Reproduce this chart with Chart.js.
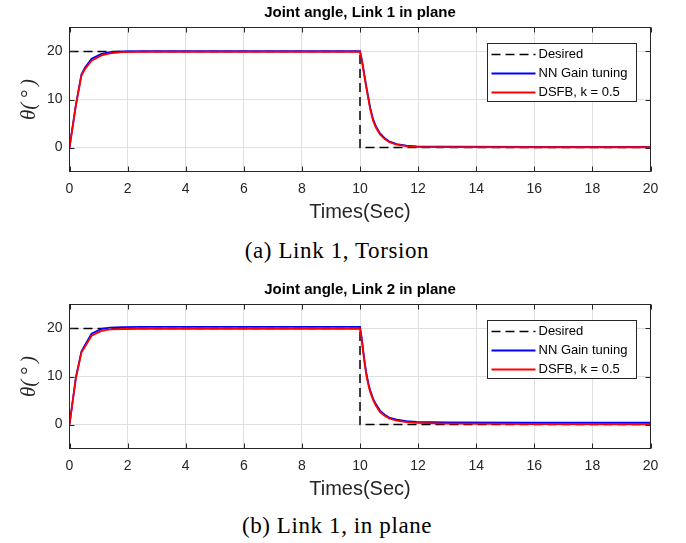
<!DOCTYPE html>
<html>
<head>
<meta charset="utf-8">
<script src="https://cdn.jsdelivr.net/npm/chart.js@4"></script>
<style>
  html, body { margin: 0; padding: 0; background: #fff; }
  #wrap { position: relative; width: 686px; height: 543px; overflow: hidden; }
  .panel { position: absolute; left: 0; width: 686px; height: 232px; }
  .caption {
    position: absolute; left: 0; width: 674px; text-align: center;
    font-family: 'Liberation Serif', 'DejaVu Serif', serif; font-size: 23px;
    letter-spacing: 0.6px; line-height: 26px; color: #000;
  }
</style>
</head>
<body>
<div id="wrap">
  <div class="panel" style="top:0"><canvas id="chart1" width="686" height="232"></canvas></div>
  <div class="caption" style="top:238px">(a) Link 1, Torsion</div>
  <div class="panel" style="top:277px"><canvas id="chart2" width="686" height="232"></canvas></div>
  <div class="caption" style="top:513px">(b) Link 1, in plane</div>
</div>
<script>
// Axis ticks
const xTicks = [0, 2, 4, 6, 8, 10, 12, 14, 16, 18, 20];
const yTicks = [0, 10, 20];

// Desired step (same for both links)
const desiredT = [0, 10, 10, 20];
const desiredV = [20, 20, 0, 0];

// Sample times of the responses
const respT = [0, 0.22, 0.41, 0.53, 0.76, 1.1, 1.4, 1.8, 2.5, 4, 10,
  10.06, 10.115, 10.17, 10.23, 10.3, 10.35, 10.45, 10.55, 10.69, 10.85,
  11, 11.26, 11.6, 11.95, 13, 16, 20];

// Link 1 responses
const link1NN = [0, 8.9, 15.2, 16.6, 18.5, 19.5, 19.85, 20.0, 20.05, 20.05, 20.05,
  18.4, 16.5, 14.4, 12.3, 10.0, 8.3, 5.9, 4.4, 2.95, 1.95,
  1.3, 0.7, 0.4, 0.25, 0.18, 0.15, 0.15];
const link1DSFB = [0, 8.8, 15.0, 16.3, 18.1, 19.2, 19.6, 19.85, 19.95, 19.95, 19.95,
  18.2, 16.2, 14.1, 12.0, 9.7, 8.0, 5.6, 4.1, 2.7, 1.75,
  1.15, 0.6, 0.3, 0.15, 0.08, 0.05, 0.05];

// Link 2 responses
const link2NN = [0, 9.8, 15.2, 16.5, 18.9, 19.9, 20.2, 20.3, 20.35, 20.35, 20.35,
  18.0, 15.2, 12.6, 10.3, 8.3, 7.1, 5.4, 4.2, 2.9, 2.05,
  1.45, 1.0, 0.7, 0.55, 0.42, 0.37, 0.36];
const link2DSFB = [0, 9.7, 15.0, 16.2, 18.5, 19.5, 19.8, 19.9, 19.95, 19.95, 19.95,
  17.6, 14.8, 12.2, 9.9, 7.9, 6.8, 5.1, 3.9, 2.6, 1.8,
  1.25, 0.8, 0.5, 0.35, 0.2, 0.1, 0.05];

const seriesLabels = ['Desired', 'NN Gain tuning', 'DSFB, k = 0.5'];

const sans = "'Liberation Sans', Arial, Helvetica, sans-serif";
const axisColor = '#262626';

function pts(ts, vs) {
  return ts.map((t, i) => ({ x: t, y: vs[i] }));
}

// MATLAB style box with inward ticks, title over the axes and a boxed legend
const matlabBox = {
  id: 'matlabBox',
  afterDraw(chart, args, opts) {
    const { ctx, chartArea: a, scales: { x, y } } = chart;
    ctx.save();
    ctx.strokeStyle = axisColor;
    ctx.lineWidth = 1;
    ctx.strokeRect(a.left, a.top, a.right - a.left, a.bottom - a.top);
    ctx.beginPath();
    xTicks.forEach(v => {
      const px = Math.round(x.getPixelForValue(v)) + 0.5;
      ctx.moveTo(px, a.bottom); ctx.lineTo(px, a.bottom - 5);
      ctx.moveTo(px, a.top); ctx.lineTo(px, a.top + 5);
    });
    yTicks.forEach(v => {
      const py = Math.round(y.getPixelForValue(v)) + 0.5;
      ctx.moveTo(a.left, py); ctx.lineTo(a.left + 5, py);
      ctx.moveTo(a.right, py); ctx.lineTo(a.right - 5, py);
    });
    ctx.stroke();

    // title
    ctx.fillStyle = '#000';
    ctx.font = 'bold 15px ' + sans;
    ctx.textAlign = 'center';
    ctx.textBaseline = 'middle';
    ctx.fillText(opts.title, (a.left + a.right) / 2, 13);

    // legend
    const lx = 487.5, ly = Math.round(a.top + 15) + 0.5, lw = 149, lh = 58;
    ctx.fillStyle = '#fff';
    ctx.fillRect(lx, ly, lw, lh);
    ctx.strokeStyle = '#262626';
    ctx.strokeRect(lx, ly, lw, lh);
    chart.data.datasets.forEach((ds, i) => {
      const ry = ly + 11 + i * 19;
      ctx.beginPath();
      ctx.strokeStyle = ds.borderColor;
      ctx.lineWidth = ds.borderWidth;
      ctx.setLineDash(ds.borderDash || []);
      ctx.moveTo(lx + 4, ry); ctx.lineTo(lx + 48, ry);
      ctx.stroke();
      ctx.setLineDash([]);
      ctx.fillStyle = '#000';
      ctx.font = '13px ' + sans;
      ctx.textBaseline = 'middle';
      ctx.textAlign = 'left';
      ctx.fillText(ds.label, lx + 51, ry);
    });
    ctx.restore();
  }
};

function makeChart(id, title, nn, dsfb) {
  const ctx = document.getElementById(id).getContext('2d');
  return new Chart(ctx, {
    type: 'line',
    data: {
      datasets: [
        {
          label: seriesLabels[0],
          data: pts(desiredT, desiredV),
          borderColor: '#000000',
          borderDash: [9, 5],
          borderWidth: 1.5,
          order: 3
        },
        {
          label: seriesLabels[1],
          data: pts(respT, nn),
          borderColor: '#0000ff',
          borderWidth: 1.8,
          order: 2
        },
        {
          label: seriesLabels[2],
          data: pts(respT, dsfb),
          borderColor: '#ff0000',
          borderWidth: 1.8,
          order: 1
        }
      ]
    },
    options: {
      responsive: false,
      animation: false,
      elements: { point: { radius: 0 }, line: { tension: 0, fill: false } },
      layout: { padding: { left: 0, right: 35.5, top: 27.5, bottom: 0 } },
      plugins: {
        legend: { display: false },
        tooltip: { enabled: false },
        title: { display: false },
        matlabBox: { title: title }
      },
      scales: {
        x: {
          type: 'linear',
          min: 0,
          max: 20,
          afterBuildTicks: s => { s.ticks = xTicks.map(v => ({ value: v })); },
          afterFit: s => { s.height = 60.5; },
          grid: { color: '#dfdfdf', drawTicks: false },
          border: { display: false },
          ticks: { color: axisColor, padding: 9, maxRotation: 0, font: { family: sans, size: 14 } },
          title: {
            display: true,
            text: 'Times(Sec)',
            color: axisColor,
            font: { family: sans, size: 20, lineHeight: 1.2 },
            padding: { top: 0, bottom: 8 }
          }
        },
        y: {
          min: -5,
          max: 25,
          afterBuildTicks: s => { s.ticks = yTicks.map(v => ({ value: v })); },
          afterFit: s => { s.width = 69.5; },
          grid: { color: '#dfdfdf', drawTicks: false },
          border: { display: false },
          ticks: { color: axisColor, padding: 7, font: { family: sans, size: 14 } },
          title: {
            display: true,
            text: 'θ(\u2009°\u2009)',
            color: axisColor,
            font: { family: "'Liberation Serif', 'DejaVu Serif', serif", size: 21, style: 'italic', lineHeight: 1.2 },
            padding: { top: 17, bottom: 0 }
          }
        }
      }
    },
    plugins: [matlabBox]
  });
}

makeChart('chart1', 'Joint angle, Link 1 in plane', link1NN, link1DSFB);
makeChart('chart2', 'Joint angle, Link 2 in plane', link2NN, link2DSFB);
</script>
</body>
</html>
